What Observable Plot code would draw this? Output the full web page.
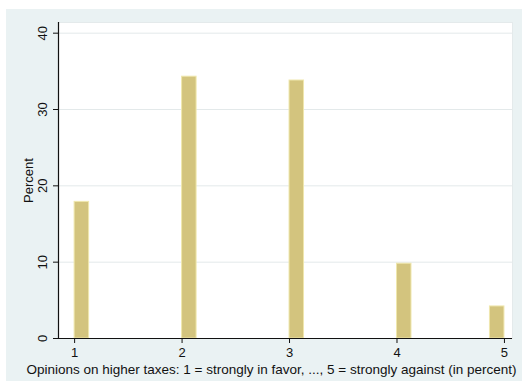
<!DOCTYPE html>
<html>
<head>
<meta charset="utf-8">
<script src="https://cdn.jsdelivr.net/npm/d3@7"></script>
<script src="https://cdn.jsdelivr.net/npm/@observablehq/plot@0.6"></script>
<style>
  html, body { margin: 0; padding: 0; background: #ffffff; }
  #chart { padding: 9px 0 0 6px; }
  #chart svg { display: block; }
</style>
</head>
<body>
<div id="chart"></div>
<script>
// Answer categories (1 = strongly in favor ... 5 = strongly against)
const opinions = [1, 2, 3, 4, 5];
// Share of respondents per answer, in percent
const percents = [17.9, 34.3, 33.8, 9.8, 4.2];
// Axis ticks
const yTicks = [0, 10, 20, 30, 40];
const xTicks = [1, 2, 3, 4, 5];
const xLabel = "Opinions on higher taxes: 1 = strongly in favor, ..., 5 = strongly against (in percent)";
const yLabel = "Percent";

// Histogram bins are narrow; each starts at its value, the last one ends at the range maximum
const binWidth = 0.135;
const xMax = d3.max(opinions);
const bars = opinions.map((v, i) => {
  const x1 = Math.min(v, xMax - binWidth);
  return {x1, x2: x1 + binWidth, pct: percents[i]};
});

const xDomain = [0.85, 5.075];
const yDomain = [0, 41.4];

const chart = Plot.plot({
  width: 516,
  height: 372,
  marginLeft: 52,
  marginRight: 10,
  marginTop: 13,
  marginBottom: 43,
  style: {
    background: "#eaf2f3",
    fontFamily: "'Liberation Sans', Arial, sans-serif",
    fontSize: "13px",
    color: "#111"
  },
  x: {domain: xDomain},
  y: {domain: yDomain},
  marks: [
    Plot.frame({fill: "#ffffff", stroke: "#e4eaeb"}),
    Plot.gridY(yTicks.filter(d => d > 0), {stroke: "#e3e9ea", strokeOpacity: 1}),
    Plot.rectY(bars, {x1: "x1", x2: "x2", y: "pct", fill: "#d3c47e", stroke: "#efe7ad", strokeWidth: 1}),
    Plot.ruleX([xDomain[0]], {stroke: "#111", strokeWidth: 1.2}),
    Plot.ruleY([0], {stroke: "#111", strokeWidth: 1.2}),
    Plot.axisY({ticks: yTicks, tickSize: 5, tickPadding: 7, tickRotate: -90, tickFormat: "d", label: null, stroke: "#111", fontSize: 13}),
    Plot.axisX({ticks: xTicks, tickSize: 5, tickPadding: 4, tickFormat: "d", label: null, stroke: "#111", fontSize: 13}),
    Plot.text([yLabel], {frameAnchor: "left", textAnchor: "middle", rotate: -90, dx: -30, fill: "#111", fontSize: 13}),
    Plot.text([xLabel], {frameAnchor: "bottom", dy: 35, dx: -14, fill: "#111", fontSize: 13.5})
  ]
});

document.getElementById("chart").appendChild(chart);
</script>
</body>
</html>
